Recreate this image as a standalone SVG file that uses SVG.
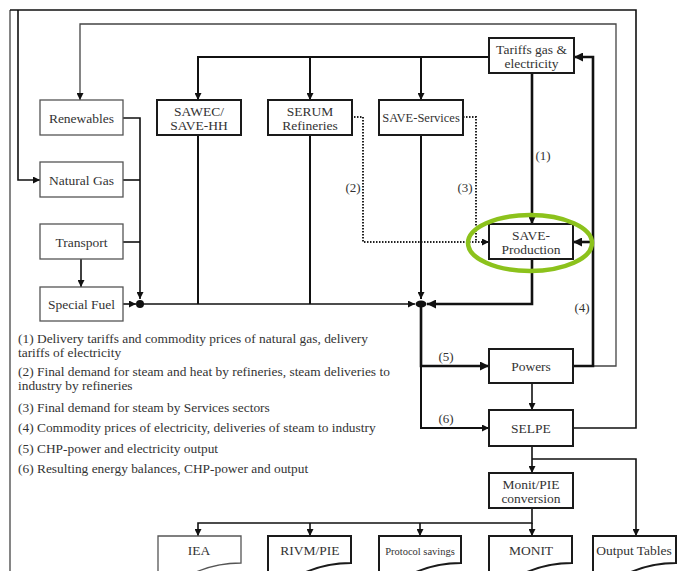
<svg xmlns="http://www.w3.org/2000/svg" width="679" height="571" viewBox="0 0 679 571">
<defs>
<marker id="ah" viewBox="0 0 8 8" refX="8" refY="4" markerWidth="7" markerHeight="7" markerUnits="userSpaceOnUse" orient="auto"><path d="M0,0 L8,4 L0,8 z" fill="#111"/></marker>
<marker id="ahb" viewBox="0 0 8 8" refX="8" refY="4" markerWidth="9" markerHeight="9" markerUnits="userSpaceOnUse" orient="auto"><path d="M0,0 L8,4 L0,8 z" fill="#111"/></marker>
</defs>
<style>
.box{fill:#fff;stroke:#1a1a1a;stroke-width:2}
.tbox{fill:#fff;stroke:#555;stroke-width:1.3}
text{font-family:'Liberation Serif','DejaVu Serif',serif;fill:#333}
.t{font-size:13.5px;text-anchor:middle;dominant-baseline:central}
.small{font-size:10.5px}
.svc{font-size:12.5px}
.leg{font-size:13.4px}
.lbl{font-size:13px;text-anchor:middle;dominant-baseline:central}
.ln{fill:none;stroke:#111;stroke-width:1.6}
.thk{fill:none;stroke:#111;stroke-width:2.6}
.med{fill:none;stroke:#111;stroke-width:2}
.thn{fill:none;stroke:#444;stroke-width:1.3}
.dash{fill:none;stroke:#222;stroke-width:2;stroke-dasharray:1.5 1.5}
</style>
<rect width="679" height="571" fill="#fff"/>

<g id="connectors">
  <path class="thn" d="M10,571 V10"/>
  <path class="ln" d="M573,428 H636 V10 H10"/>
  <path class="ln" d="M18,10 V180 H40" marker-end="url(#ah)"/>
  <path class="thn" d="M593,366 H616 V24 H80 V100" marker-end="url(#ah)"/>
  <path class="thk" d="M573,366 H593 V57 H574" marker-end="url(#ahb)"/>
  <path class="thk" d="M593,242 H573" marker-end="url(#ahb)"/>
  <path class="med" d="M489,57 H198 V100" marker-end="url(#ah)"/>
  <path class="med" d="M310,57 V100" marker-end="url(#ah)"/>
  <path class="med" d="M421,57 V100" marker-end="url(#ah)"/>
  <path class="thk" d="M532,73 V224" marker-end="url(#ah)"/>
  <path class="dash" d="M351,117 H363 V242 H489" marker-end="url(#ah)"/>
  <path class="dash" d="M463,117 H476 V242"/>
  <path class="ln" d="M123,118 H140 V299" marker-end="url(#ah)"/>
  <path class="ln" d="M123,180 H140"/>
  <path class="ln" d="M123,242 H140"/>
  <path class="ln" d="M81,259 V287" marker-end="url(#ah)"/>
  <path class="ln" d="M123,304 H136" marker-end="url(#ah)"/>
  <circle cx="140" cy="304" r="4" fill="#111"/>
  <path class="ln" d="M140,304 H415" marker-end="url(#ah)"/>
  <path class="med" d="M198,135 V304"/>
  <path class="med" d="M310,135 V304"/>
  <path class="med" d="M421,135 V299" marker-end="url(#ah)"/>
  <path class="thk" d="M532,259 V304 H427" marker-end="url(#ahb)"/>
  <ellipse cx="421" cy="304" rx="5.5" ry="3.5" fill="#111"/>
  <path class="thk" d="M421,304 V366 H489" marker-end="url(#ahb)"/>
  <path class="med" d="M421,366 V428 H489" marker-end="url(#ah)"/>
  <path class="ln" d="M532,383 V410" marker-end="url(#ah)"/>
  <path class="ln" d="M532,446 V473" marker-end="url(#ah)"/>
  <path class="ln" d="M532,459 H636 V536" marker-end="url(#ah)"/>
  <path class="ln" d="M532,508 V523 H198 V536" marker-end="url(#ah)"/>
  <path class="ln" d="M310,523 V536" marker-end="url(#ah)"/>
  <path class="ln" d="M420,523 V536" marker-end="url(#ah)"/>
  <path class="ln" d="M532,523 V536" marker-end="url(#ah)"/>
  <text class="lbl" x="543" y="155">(1)</text>
  <text class="lbl" x="353" y="187">(2)</text>
  <text class="lbl" x="465" y="187">(3)</text>
  <text class="lbl" x="582" y="307">(4)</text>
  <text class="lbl" x="446" y="356">(5)</text>
  <text class="lbl" x="446" y="418">(6)</text>
</g>

<g id="renewables"><rect class="tbox" x="40" y="100" width="83" height="35"/><text class="t" x="81.5" y="118">Renewables</text></g>
<g id="natural-gas"><rect class="tbox" x="40" y="162" width="83" height="35"/><text class="t" x="81.5" y="180">Natural Gas</text></g>
<g id="transport"><rect class="tbox" x="40" y="224" width="83" height="35"/><text class="t" x="81.5" y="242">Transport</text></g>
<g id="special-fuel"><rect class="tbox" x="40" y="287" width="83" height="34"/><text class="t" x="81.5" y="304">Special Fuel</text></g>

<g id="sawec"><rect class="box" x="157" y="100" width="84" height="35"/><text class="t" x="199" y="111">SAWEC/</text><text class="t" x="199" y="125">SAVE-HH</text></g>
<g id="serum"><rect class="box" x="268" y="100" width="84" height="35"/><text class="t" x="310" y="111">SERUM</text><text class="t" x="310" y="125">Refineries</text></g>
<g id="save-services"><rect class="box" x="379" y="100" width="84" height="35"/><text class="t svc" x="421" y="118">SAVE-Services</text></g>
<g id="tariffs"><rect class="box" x="489" y="38" width="85" height="35"/><text class="t" x="531.5" y="49">Tariffs gas &amp;</text><text class="t" x="531.5" y="63">electricity</text></g>
<g id="save-production"><rect class="box" x="489" y="224" width="84" height="35"/><text class="t" x="531" y="235">SAVE-</text><text class="t" x="531" y="249">Production</text>
<ellipse cx="530" cy="243" rx="62" ry="28" fill="none" stroke="#8cc21c" stroke-width="4.5"/></g>
<g id="powers"><rect class="box" x="489" y="349" width="84" height="34"/><text class="t" x="531" y="366">Powers</text></g>
<g id="selpe"><rect class="box" x="489" y="410" width="84" height="36"/><text class="t" x="531" y="428">SELPE</text></g>
<g id="monit-pie"><rect class="box" x="489" y="473" width="84" height="35"/><text class="t" x="531" y="484">Monit/PIE</text><text class="t" x="531" y="498">conversion</text></g>

<g id="iea"><path class="tbox" d="M158,575 V536 H241 V563 C225,563 210,566 196,572"/><text class="t" x="199" y="550">IEA</text></g>
<g id="rivm"><path class="box" d="M268,575 V536 H351 V563 C335,563 320,566 306,572"/><text class="t" x="310" y="550">RIVM/PIE</text></g>
<g id="protocol"><path class="box" d="M379,575 V536 H461 V563 C445,563 430,566 416,572"/><text class="t small" x="420" y="551">Protocol savings</text></g>
<g id="monit"><path class="box" d="M489,575 V536 H572 V563 C556,563 541,566 527,572"/><text class="t" x="531" y="550">MONIT</text></g>
<g id="output-tables"><path class="box" d="M593,575 V536 H676 V563 C660,563 645,566 631,572"/><text class="t" x="634" y="550">Output Tables</text></g>

<g id="legend">
<text class="leg" x="18" y="343">(1) Delivery tariffs and commodity prices of natural gas, delivery</text>
<text class="leg" x="18" y="357">tariffs of electricity</text>
<text class="leg" x="18" y="376">(2) Final demand for steam and heat by refineries, steam deliveries to</text>
<text class="leg" x="18" y="390">industry by refineries</text>
<text class="leg" x="18" y="412">(3) Final demand for steam by Services sectors</text>
<text class="leg" x="18" y="432">(4) Commodity prices of electricity, deliveries of steam to industry</text>
<text class="leg" x="18" y="453">(5) CHP-power and electricity output</text>
<text class="leg" x="18" y="473">(6) Resulting energy balances, CHP-power and output</text>
</g>
</svg>
